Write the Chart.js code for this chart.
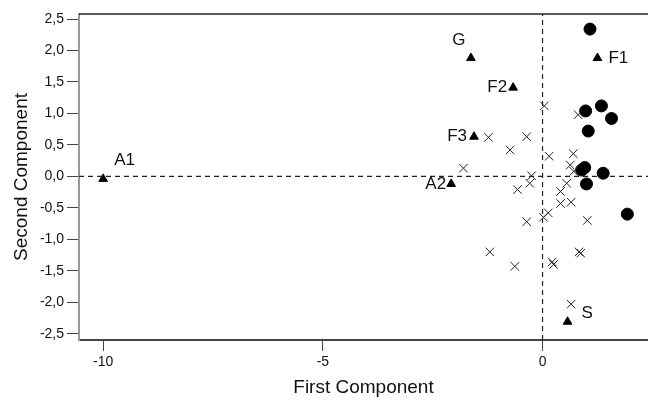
<!DOCTYPE html>
<html lang="en">
<head>
    <meta charset="UTF-8">
    <title>First vs Second Component</title>
    <script src="https://cdn.jsdelivr.net/npm/chart.js"></script>
    <style>
        html, body { margin: 0; padding: 0; background: #ffffff; overflow: hidden; }
        canvas { display: block; }
    </style>
</head>
<body>
    <canvas id="pcaChart" width="648" height="400"></canvas>

    <script>
        // labelled samples (triangles)
        const refNames = ['A1', 'G', 'F1', 'F2', 'F3', 'A2', 'S'];
        const refX = [-10.0, -1.63, 1.25, -0.67, -1.56, -2.08, 0.57];
        const refY = [-0.04, 1.88, 1.88, 1.41, 0.63, -0.12, -2.31];

        // crosses
        const crossX = [0.04, 0.81, -1.23, -0.36, -0.74, -1.80, 0.15, 0.70, 0.63, 0.71,
                        -0.25, -0.29, -0.57, 0.55, 0.41, 0.41, 0.65, 0.13, 0.02, -0.36,
                        1.02, -1.20, -0.63, 0.22, 0.25, 0.83, 0.87, 0.65];
        const crossY = [1.12, 0.98, 0.62, 0.63, 0.42, 0.13, 0.32, 0.36, 0.18, 0.08,
                        0.01, -0.11, -0.21, -0.11, -0.24, -0.43, -0.41, -0.58, -0.65, -0.72,
                        -0.70, -1.20, -1.43, -1.36, -1.40, -1.20, -1.22, -2.03];

        // filled circles
        const dotX = [1.08, 1.34, 0.98, 1.57, 1.04, 0.89, 0.96, 1.38, 1.00, 1.93];
        const dotY = [2.34, 1.12, 1.04, 0.92, 0.72, 0.10, 0.14, 0.05, -0.12, -0.60];

        const xTicks = [-10, -5, 0];
        const yTicks = [-2.5, -2, -1.5, -1, -0.5, 0, 0.5, 1, 1.5, 2, 2.5];

        const xMin = -10.55, xMax = 2.4;
        const yMin = -2.6, yMax = 2.58;

        const FONT = '"Liberation Sans", Arial, sans-serif';

        function pts(xs, ys) {
            return xs.map((x, i) => ({ x: x, y: ys[i] }));
        }

        // where each name sits around its triangle
        const labelPlace = {
            A1: { dx: 11, dy: -19, align: 'left' },
            G: { dx: -12, dy: -18, align: 'center' },
            F1: { dx: 11, dy: 0, align: 'left' },
            F2: { dx: -6, dy: 0, align: 'right' },
            F3: { dx: -7, dy: 0, align: 'right' },
            A2: { dx: -5, dy: 0, align: 'right' },
            S: { dx: 14, dy: -8, align: 'left' }
        };

        const pointLabels = {
            id: 'pointLabels',
            afterDatasetsDraw(chart) {
                const ctx = chart.ctx;
                const meta = chart.getDatasetMeta(2);
                ctx.save();
                ctx.fillStyle = '#111';
                ctx.font = '17px ' + FONT;
                ctx.textBaseline = 'middle';
                meta.data.forEach((el, i) => {
                    const p = labelPlace[refNames[i]];
                    ctx.textAlign = p.align;
                    ctx.fillText(refNames[i], el.x + p.dx, el.y + p.dy);
                });
                ctx.restore();
            }
        };

        const topBorder = {
            id: 'topBorder',
            afterDraw(chart) {
                const a = chart.chartArea;
                const ctx = chart.ctx;
                ctx.save();
                ctx.strokeStyle = '#222';
                ctx.lineWidth = 1.5;
                ctx.beginPath();
                ctx.moveTo(a.left, a.top);
                ctx.lineTo(a.right, a.top);
                ctx.stroke();
                ctx.restore();
            }
        };

        const ctx = document.getElementById('pcaChart').getContext('2d');
        new Chart(ctx, {
            type: 'scatter',
            data: {
                datasets: [
                    {
                        type: 'line',
                        data: [{ x: xMin, y: 0 }, { x: xMax, y: 0 }],
                        borderColor: '#222',
                        borderWidth: 1.2,
                        borderDash: [5, 4],
                        pointRadius: 0,
                        order: 5
                    },
                    {
                        type: 'line',
                        data: [{ x: 0, y: yMin }, { x: 0, y: yMax }],
                        borderColor: '#222',
                        borderWidth: 1.2,
                        borderDash: [5, 4],
                        pointRadius: 0,
                        order: 5
                    },
                    {
                        data: pts(refX, refY),
                        pointStyle: 'triangle',
                        pointRadius: 5,
                        backgroundColor: '#000',
                        borderColor: '#000',
                        borderWidth: 1
                    },
                    {
                        data: pts(crossX, crossY),
                        pointStyle: 'crossRot',
                        pointRadius: 6,
                        borderColor: '#222',
                        borderWidth: 1
                    },
                    {
                        data: pts(dotX, dotY),
                        pointStyle: 'circle',
                        pointRadius: 6,
                        backgroundColor: '#000',
                        borderColor: '#000',
                        borderWidth: 1
                    }
                ]
            },
            options: {
                responsive: false,
                animation: false,
                layout: { autoPadding: false, padding: { top: 14, right: 0, left: 0, bottom: 0 } },
                plugins: {
                    legend: { display: false },
                    tooltip: { enabled: false }
                },
                scales: {
                    x: {
                        type: 'linear',
                        min: xMin,
                        max: xMax,
                        afterBuildTicks: s => { s.ticks = xTicks.map(v => ({ value: v })); },
                        afterFit: s => {
                            s.height = 60;
                            s.paddingLeft = 0;
                            s.paddingRight = 0;
                        },
                        border: { color: '#444', width: 2 },
                        grid: { drawOnChartArea: false, tickLength: 11, color: '#444' },
                        ticks: {
                            color: '#111',
                            padding: 3,
                            maxRotation: 0,
                            font: { family: FONT, size: 14 }
                        },
                        title: {
                            display: true,
                            text: 'First Component',
                            color: '#111',
                            padding: { top: 0, bottom: 1 },
                            font: { family: FONT, size: 19 }
                        }
                    },
                    y: {
                        type: 'linear',
                        min: yMin,
                        max: yMax,
                        afterBuildTicks: s => { s.ticks = yTicks.map(v => ({ value: v })); },
                        afterFit: s => { s.width = 79; },
                        border: { color: '#999', width: 2 },
                        grid: { drawOnChartArea: false, tickLength: 12, color: '#444' },
                        ticks: {
                            color: '#111',
                            padding: 3,
                            callback: v => v.toFixed(1).replace('.', ','),
                            font: { family: FONT, size: 14 }
                        },
                        title: {
                            display: true,
                            text: 'Second Component',
                            color: '#111',
                            padding: { top: 10, bottom: 0 },
                            font: { family: FONT, size: 19 }
                        }
                    }
                }
            },
            plugins: [pointLabels, topBorder]
        });
    </script>
</body>
</html>
